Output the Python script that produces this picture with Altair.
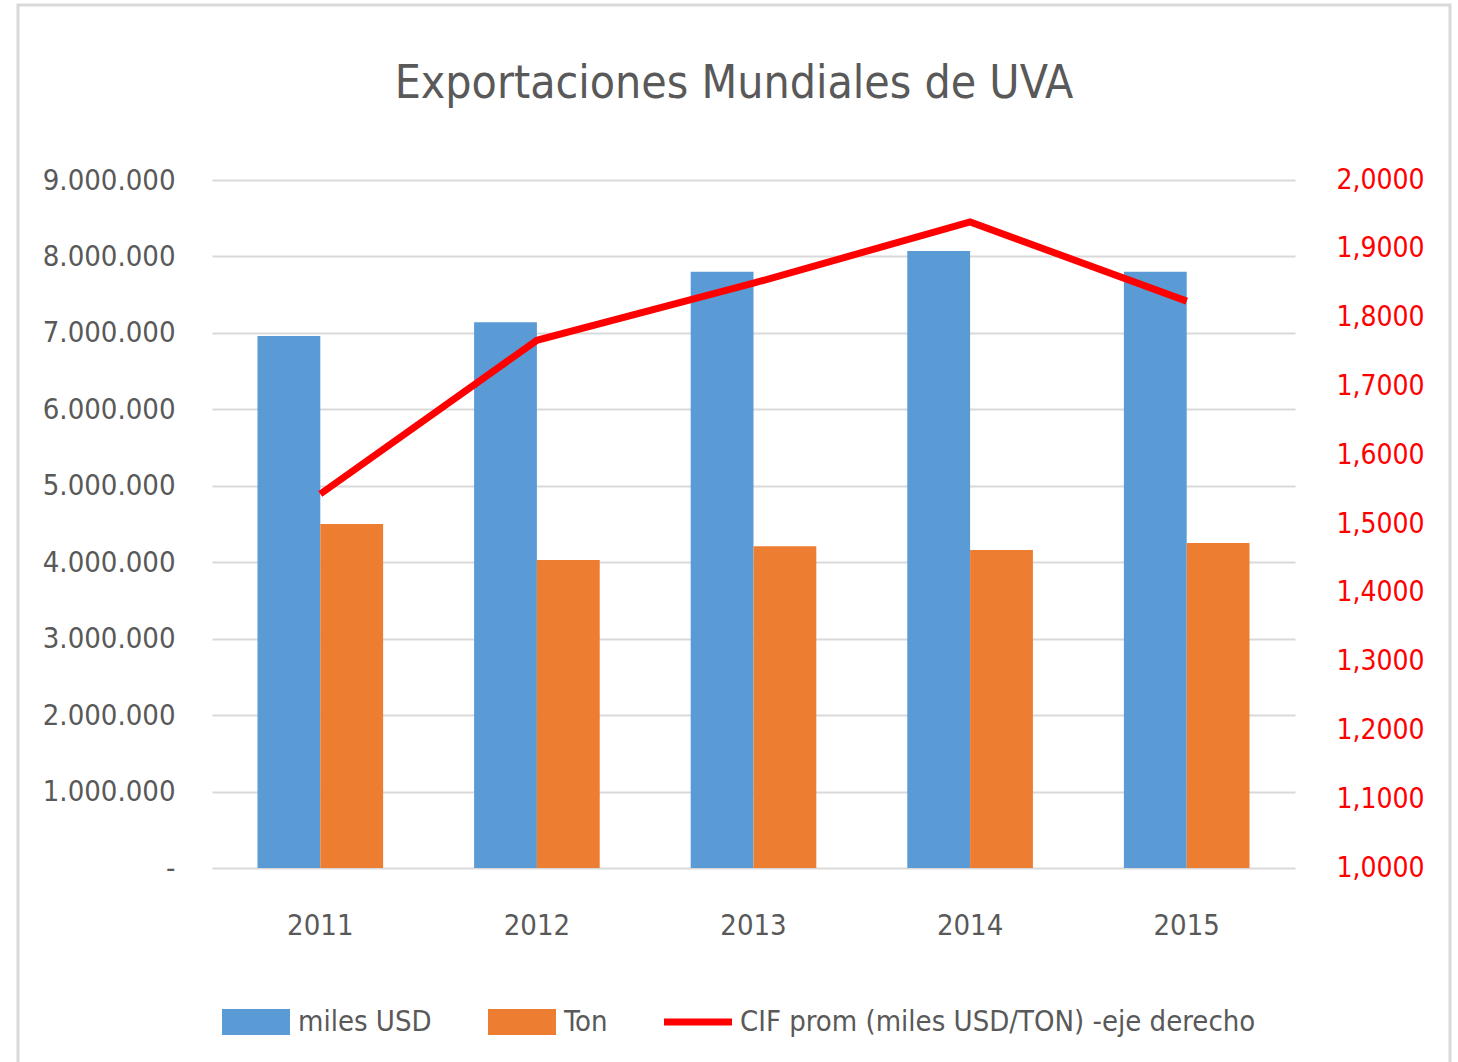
import altair as alt
import pandas as pd

# ---- data ----
years = ["2011", "2012", "2013", "2014", "2015"]
miles_usd = [6960000, 7140000, 7800000, 8070000, 7800000]
ton = [4500000, 4030000, 4210000, 4160000, 4250000]
cif_prom = [1.5436, 1.7670, 1.8500, 1.9390, 1.8240]
series = ["miles USD", "Ton", "CIF prom (miles USD/TON) -eje derecho"]
colors = ["#5B9BD5", "#ED7D31", "#FF0000"]
left_ticks = [0, 1000000, 2000000, 3000000, 4000000, 5000000, 6000000, 7000000, 8000000, 9000000]
right_ticks = [1.0, 1.1, 1.2, 1.3, 1.4, 1.5, 1.6, 1.7, 1.8, 1.9, 2.0]

FONT = "'DejaVu Sans Condensed', 'Liberation Sans Narrow', sans-serif"
GREY = "#595959"
GRID = "#D9D9D9"
NBSP = "\u00a0"

bars_rows = []
for y, a, b in zip(years, miles_usd, ton):
    bars_rows.append({"year": y, "serie": series[0], "value": a})
    bars_rows.append({"year": y, "serie": series[1], "value": b})
bars_df = pd.DataFrame(bars_rows)
line_df = pd.DataFrame({"year": years, "serie": series[2], "value": cif_prom})

color_scale = alt.Scale(domain=series, range=colors)
legend = alt.Legend(
    title=None, orient="none", legendX=10, legendY=808, direction="horizontal",
    symbolType=alt.ExprRef(expr="datum.value == 'CIF prom (miles USD/TON) -eje derecho' ? 'M-1,-0.1H1V0.1H-1Z' : 'M-1,-0.38H1V0.38H-1Z'"),
    symbolSize=4624, symbolStrokeWidth=0, labelFontSize=29, labelFont=FONT,
    labelColor=GREY, labelOffset=8, columnPadding=56, padding=0, labelLimit=0,
)

x_enc = alt.X(
    "year:N", sort=years,
    scale=alt.Scale(paddingInner=0.42, paddingOuter=0.21),
    axis=alt.Axis(title=None, labelFontSize=29, labelFont=FONT, labelColor=GREY,
                  labelPadding=43, domain=False, ticks=False, labelAngle=0, grid=False),
)

frame = alt.Chart(alt.Data(values=[{"a": 1}])).mark_rect(
    fillOpacity=0, stroke=GRID, strokeWidth=3
).encode(x=alt.value(-194), x2=alt.value(1238), y=alt.value(-175), y2=alt.value(900))

bars = alt.Chart(bars_df).mark_bar().encode(
    x=x_enc,
    xOffset=alt.XOffset("serie:N", sort=series[:2],
                        scale=alt.Scale(domain=series[:2], paddingInner=0, paddingOuter=0)),
    y=alt.Y("value:Q", scale=alt.Scale(domain=[0, 9000000], nice=False),
            axis=alt.Axis(title=None, values=left_ticks, labelFontSize=29, labelFont=FONT,
                          labelColor=GREY, labelPadding=37, domain=False, ticks=False,
                          grid=True, gridColor=GRID, gridWidth=2,
                          labelExpr="datum.value == 0 ? '-" + NBSP + NBSP + "' : replace(replace(format(datum.value, ','), ',', '.'), ',', '.')")),
    color=alt.Color("serie:N", scale=color_scale, legend=legend),
)

line = alt.Chart(line_df).mark_line(strokeWidth=7).encode(
    x=x_enc,
    y=alt.Y("value:Q", scale=alt.Scale(domain=[1, 2], nice=False),
            axis=alt.Axis(title=None, orient="right", values=right_ticks, labelFontSize=28,
                          labelFont=FONT, labelColor="#FF0000", labelPadding=41, domain=False,
                          ticks=False, grid=False,
                          labelExpr="replace(format(datum.value, '.4f'), '.', ',')")),
    color=alt.Color("serie:N", scale=color_scale, legend=legend),
)

chart = alt.layer(frame, bars, line).resolve_scale(y="independent").properties(
    width=1083, height=688,
    title=alt.TitleParams("Exportaciones Mundiales de UVA", fontSize=46, font=FONT, color=GREY,
                          fontWeight="normal", anchor="middle", frame="bounds", offset=0, dy=104),
    autosize=alt.AutoSizeParams(type="none"),
    padding={"left": 212, "top": 180, "right": 163, "bottom": 194},
).configure(background="white").configure_view(stroke=None)

chart.save("out.html", embed_options={"renderer": "svg", "actions": False})
